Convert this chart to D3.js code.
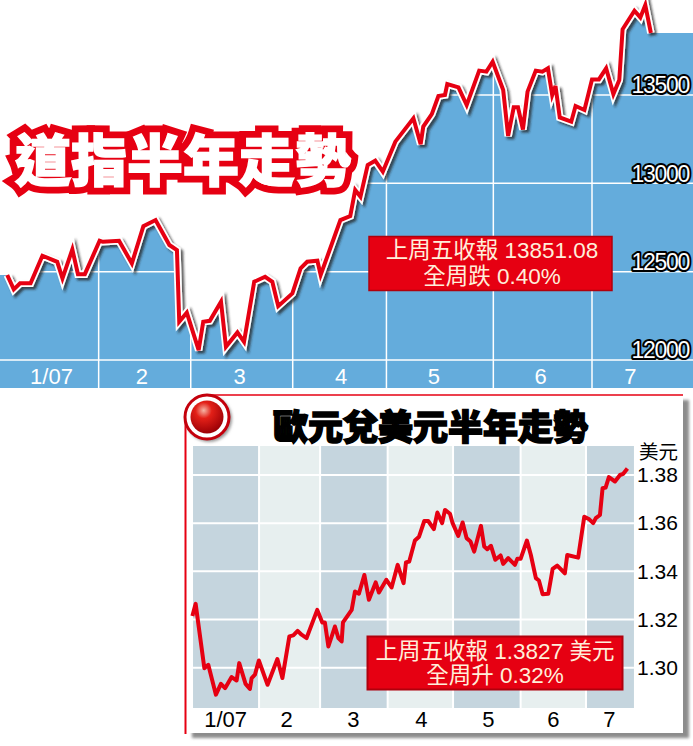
<!DOCTYPE html>
<meta charset="utf-8">
<style>
body { margin: 0; background: #fff; }
svg { display: block; }
text { font-family: "Liberation Sans", "Noto Sans CJK TC", sans-serif; }
.cjk { font-family: "Noto Sans CJK TC", sans-serif; font-weight: 900; }
.note { fill: #ffeeda; font-size: 22.5px; text-anchor: middle; }
.tickDow text { fill: #fff; stroke: #000; stroke-width: 4px; paint-order: stroke; stroke-linejoin: round; font-size: 23px; letter-spacing: -1.3px; }
.monthDow text { fill: #fff; font-size: 22px; }
.tickEur text { fill: #000; font-size: 21px; }
.monthEur text { fill: #000; font-size: 22px; }
.domain { display: none; }
</style>
<body>
<script src="https://d3js.org/d3.v7.min.js"></script>
<script>
// Dow Jones, Jan - Jul 2007 (day of year, close)
var dowDays = [3.2,5.2,7.1,10.3,13.9,18.4,20,23,24.7,26.8,31.3,32.3,37.2,41.1,44.6,48.3,52.5,54.8,55.5,57.8,61.4,62.8,64.8,68.2,69.7,73.2,75.2,78.3,81.6,83.8,85.6,89.9,92.4,94.4,97.5,98.5,104.5,107.5,109,110.6,112.8,115.1,117.4,121.2,126.7,128.9,129.7,132.3,134.3,136.3,137,140.4,142.9,146.7,148.9,150.8,154,155.5,157.2,158.5,160,161.4,163.9,165.9,167.6,168.9,169.9,171.2,174.7,176,178.7,181,183.1,185.3,187.5,189.3,190.3,193.9,195.7,197.2,198.9];
var dowValues = [12481,12400,12434,12434,12590,12556,12462,12626,12486,12486,12675,12669,12675,12547,12758,12792,12651,12622,12217,12268,12056,12217,12222,12330,12075,12156,12103,12443,12471,12443,12305,12377,12519,12556,12562,12481,12792,12815,12962,12924,13103,13128,13066,13236,13368,13222,13321,13392,13494,13500,13562,13543,13443,13638,13632,13688,13528,13268,13430,13430,13305,13519,13638,13632,13651,13500,13551,13373,13349,13438,13415,13588,13588,13651,13505,13585,13872,13977,13939,14009,13851];
var dowTicks = [12000,12500,13000,13500];
var dowMonthStarts = [31,59,90,118.5,151,181];
var dowLabelDays = [16.5,44,73.7,104.6,132.8,165.2,192.5];

// Euro / USD
var eurDays = [0.4,1.9,5.9,7.7,11.2,13.5,15.4,18.4,20.7,21.9,24.8,26.8,27.6,29.1,30.9,34.9,39.4,41.7,44.9,46.7,48.7,50.5,52.8,57.7,60,61.2,62.8,65.8,67.4,68.9,69.5,73.5,75,76.8,79.3,81.4,84.5,86,89.4,91.8,94.6,97.3,98.4,99.9,102.5,104.4,106.8,108.6,111.2,112.8,115,116.3,118.6,119.8,122.4,124.4,126.2,128,129.7,132.8,134.3,135.7,137.4,139.4,141.8,143,145.3,148.4,149.5,151,153.9,155.7,158,159.4,161.1,163.7,165.7,167.8,171.3,172.4,177.4,180.2,182.5,184.3,185.5,187.4,188.6,190,191.5,194.3,196.6,198.1,200];
var eurValues = [1.3215,1.3265,1.2998,1.3012,1.2888,1.2933,1.2915,1.2961,1.2947,1.3019,1.2933,1.2912,1.2957,1.2971,1.3030,1.2929,1.3036,1.2957,1.3130,1.3134,1.3153,1.3137,1.3123,1.3240,1.3188,1.3188,1.3088,1.3171,1.3123,1.3109,1.3188,1.3240,1.3316,1.3307,1.3385,1.3282,1.3354,1.3312,1.3365,1.3333,1.3427,1.3351,1.3437,1.3441,1.3528,1.3544,1.3609,1.3609,1.3575,1.3644,1.3600,1.3655,1.3639,1.3600,1.3547,1.3603,1.3538,1.3524,1.3482,1.3589,1.3503,1.3492,1.3506,1.3448,1.3466,1.3431,1.3455,1.3427,1.3452,1.3452,1.3528,1.3468,1.3372,1.3362,1.3305,1.3307,1.3410,1.3424,1.3392,1.3468,1.3457,1.3627,1.3616,1.3600,1.3621,1.3634,1.3745,1.3748,1.3791,1.3773,1.3800,1.3805,1.3827];
var eurTicks = [1.30,1.32,1.34,1.36,1.38];
var eurMonthEdges = [0.7,31,59,90,120,151,181,203];
var eurLabelDays = [15.4,43.4,74,105.2,136,165.8,191.5];

var monthLabels = ["1/07","2","3","4","5","6","7"];

var red = "#e60012";
var width = 693, height = 746;

var svg = d3.select("body").append("svg")
    .attr("width", width)
    .attr("height", height);

var defs = svg.append("defs");
var lineShadow = defs.append("filter").attr("id", "lineShadow")
    .attr("x", "-5%").attr("y", "-5%").attr("width", "110%").attr("height", "110%");
lineShadow.append("feDropShadow").attr("dx", 2.5).attr("dy", 2.5)
    .attr("stdDeviation", 1.2).attr("flood-color", "#222").attr("flood-opacity", 0.75);
var panelBlur = defs.append("filter").attr("id", "panelBlur");
panelBlur.append("feGaussianBlur").attr("stdDeviation", 1.5);
var ball = defs.append("radialGradient").attr("id", "ball")
    .attr("cx", "40%").attr("cy", "30%").attr("r", "70%");
ball.append("stop").attr("offset", "0%").attr("stop-color", "#f5b5a5");
ball.append("stop").attr("offset", "35%").attr("stop-color", "#e32018");
ball.append("stop").attr("offset", "100%").attr("stop-color", "#9c0006");

// ---- Dow chart ----
var x = d3.scaleLinear().domain([0, 181]).range([-3.3, 592]);
var y = d3.scaleLinear().domain([12000, 13500]).range([360, 95]);
var dowData = d3.zip(dowDays, dowValues);
// area runs on flat to both edges of the picture
var dowArea = [[x.invert(0), dowValues[0]]].concat(dowData, [[x.invert(width), dowValues[dowValues.length - 1]]]);

var area = d3.area()
    .x(function(d) { return x(d[0]); })
    .y0(y(12000))
    .y1(function(d) { return y(d[1]); });
var dowLine = d3.line()
    .x(function(d) { return x(d[0]); })
    .y(function(d) { return y(d[1]); });

svg.append("path").datum(dowArea).attr("d", area).attr("fill", "#64acdc");
svg.append("rect").attr("x", 0).attr("y", y(12000)).attr("width", width).attr("height", 28).attr("fill", "#64acdc");

// gridlines
svg.append("g").selectAll("line").data(dowTicks).enter().append("line")
    .attr("x1", 0).attr("x2", width)
    .attr("y1", y).attr("y2", y)
    .attr("stroke", "#fff").attr("stroke-width", 1.5);
svg.append("g").selectAll("line").data(dowMonthStarts).enter().append("line")
    .attr("x1", x).attr("x2", x)
    .attr("y1", y(13851)).attr("y2", 388)
    .attr("stroke", "#fff").attr("stroke-width", 1.5);

// line with white halo and shadow
svg.append("path").datum(dowData).attr("d", dowLine)
    .attr("fill", "none").attr("stroke", "#fff").attr("stroke-width", 7.5)
    .attr("stroke-linejoin", "miter").attr("filter", "url(#lineShadow)");
svg.append("path").datum(dowData).attr("d", dowLine)
    .attr("fill", "none").attr("stroke", red).attr("stroke-width", 4)
    .attr("stroke-linejoin", "miter");

svg.append("g").attr("class", "monthDow")
    .attr("transform", "translate(0,365)")
    .call(d3.axisBottom(x).tickValues(dowLabelDays).tickSize(0)
        .tickFormat(function(d, i) { return monthLabels[i]; }));

svg.append("g").attr("class", "tickDow")
    .attr("transform", "translate(692,0)")
    .call(d3.axisLeft(y).tickValues(dowTicks).tickSize(0).tickFormat(d3.format("d")))
    .selectAll("text").attr("dy", "-0.1em");

// title
svg.append("text").attr("class", "cjk")
    .attr("x", 15).attr("y", 181)
    .attr("font-size", 56)
    .attr("fill", "#fff").attr("stroke", red).attr("stroke-width", 15)
    .attr("stroke-linejoin", "miter").attr("stroke-miterlimit", 6)
    .attr("paint-order", "stroke")
    .text("道指半年走勢");
svg.append("text").attr("class", "cjk")
    .attr("x", 15).attr("y", 181)
    .attr("font-size", 56)
    .attr("fill", "#fff").attr("stroke", "#fff").attr("stroke-width", 1.5)
    .text("道指半年走勢");

// note box
svg.append("rect").attr("x", 369).attr("y", 236.5).attr("width", 243).attr("height", 54)
    .attr("fill", red).attr("stroke", "#b0000c").attr("stroke-width", 1.5);
svg.append("text").attr("class", "note").attr("x", 492).attr("y", 258).text("上周五收報 13851.08");
svg.append("text").attr("class", "note").attr("x", 492).attr("y", 284).text("全周跌 0.40%");

// ---- Euro panel ----
var px = d3.scaleLinear().domain([0, 181]).range([191.5, 586]);
var py = d3.scaleLinear().domain([1.30, 1.38]).range([667.7, 475]);
var eurData = d3.zip(eurDays, eurValues);

svg.append("rect").attr("x", 192).attr("y", 400).attr("width", 497).attr("height", 338)
    .attr("fill", "#8c8c8c").attr("filter", "url(#panelBlur)");
svg.append("rect").attr("x", 186).attr("y", 395).attr("width", 497).attr("height", 338).attr("fill", "#fff");
svg.append("line").attr("x1", 205).attr("x2", 683).attr("y1", 395).attr("y2", 395)
    .attr("stroke", red).attr("stroke-width", 1.5);
svg.append("line").attr("x1", 185.5).attr("x2", 185.5).attr("y1", 420).attr("y2", 734)
    .attr("stroke", red).attr("stroke-width", 2);

// month columns
var plotTop = 446, plotBottom = 708;
svg.append("g").selectAll("rect").data(d3.pairs(eurMonthEdges)).enter().append("rect")
    .attr("x", function(d) { return px(d[0]); })
    .attr("width", function(d) { return px(d[1]) - px(d[0]); })
    .attr("y", plotTop).attr("height", plotBottom - plotTop)
    .attr("fill", function(d, i) { return i % 2 ? "#e7efef" : "#c5d5de"; });
svg.append("g").selectAll("line").data(eurTicks).enter().append("line")
    .attr("x1", px(eurMonthEdges[0])).attr("x2", px(eurMonthEdges[7]))
    .attr("y1", py).attr("y2", py)
    .attr("stroke", "#fff").attr("stroke-width", 2);
svg.append("g").selectAll("line").data(eurMonthEdges.slice(1, 7)).enter().append("line")
    .attr("x1", px).attr("x2", px)
    .attr("y1", plotTop).attr("y2", plotBottom)
    .attr("stroke", "#fff").attr("stroke-width", 2);

var eurLine = d3.line()
    .x(function(d) { return px(d[0]); })
    .y(function(d) { return py(d[1]); });
svg.append("path").datum(eurData).attr("d", eurLine)
    .attr("fill", "none").attr("stroke", red).attr("stroke-width", 4)
    .attr("stroke-linejoin", "round");

svg.append("g").attr("class", "tickEur")
    .attr("transform", "translate(634,0)")
    .call(d3.axisRight(py).tickValues(eurTicks).tickSize(0).tickFormat(d3.format(".2f")));
svg.append("text").attr("x", 639).attr("y", 459).attr("font-size", 19.5).attr("fill", "#000").text("美元");

svg.append("g").attr("class", "monthEur")
    .attr("transform", "translate(0,708)")
    .call(d3.axisBottom(px).tickValues(eurLabelDays).tickSize(0)
        .tickFormat(function(d, i) { return monthLabels[i]; }));

svg.append("text").attr("class", "cjk")
    .attr("x", 273).attr("y", 440)
    .attr("font-size", 35)
    .attr("fill", "#000").attr("stroke", "#000").attr("stroke-width", 1.5)
    .text("歐元兌美元半年走勢");

// bullet
svg.append("circle").attr("cx", 209).attr("cy", 419).attr("r", 23).attr("fill", "#999").attr("filter", "url(#panelBlur)");
svg.append("circle").attr("cx", 207).attr("cy", 417).attr("r", 22).attr("fill", "#fff").attr("stroke", "#c4000c").attr("stroke-width", 3);
svg.append("circle").attr("cx", 207).attr("cy", 417).attr("r", 16.5).attr("fill", "url(#ball)");

svg.append("rect").attr("x", 367.5).attr("y", 636.5).attr("width", 255).attr("height", 53)
    .attr("fill", red).attr("stroke", "#b0000c").attr("stroke-width", 2);
svg.append("text").attr("class", "note").attr("x", 495).attr("y", 659).text("上周五收報 1.3827 美元");
svg.append("text").attr("class", "note").attr("x", 495).attr("y", 683).text("全周升 0.32%");
</script>
</body>
